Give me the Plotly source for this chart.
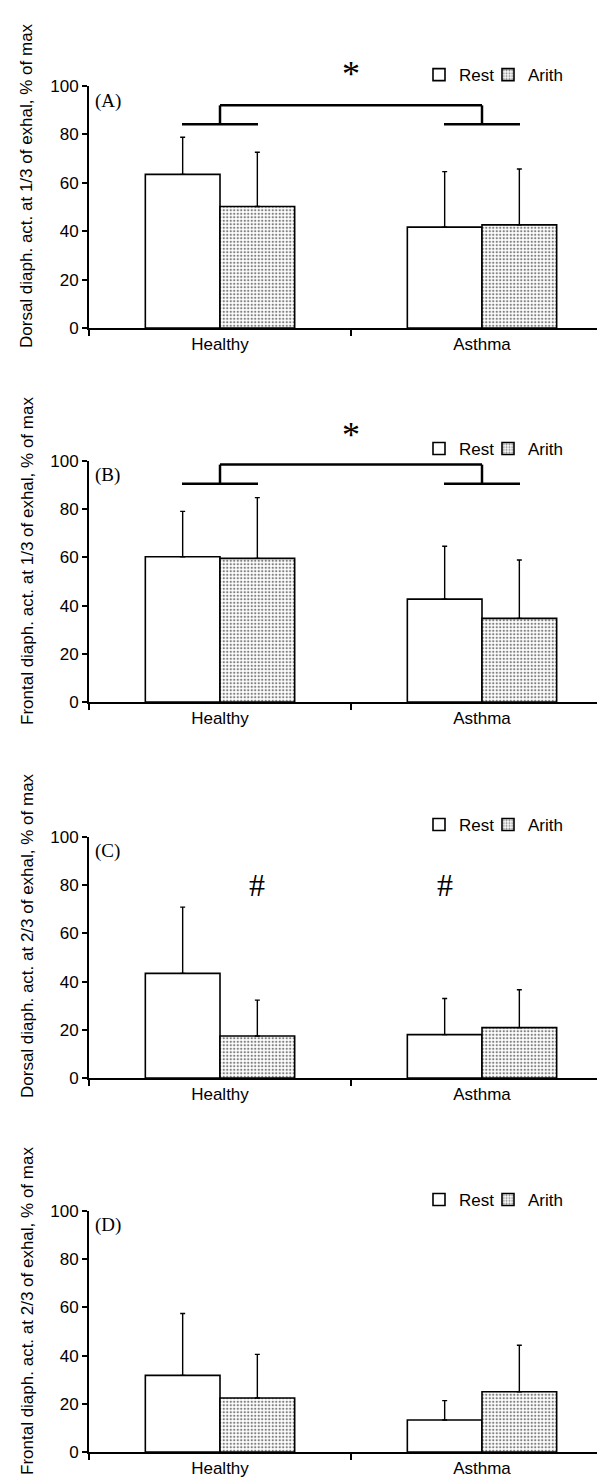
import plotly.graph_objects as go

groups = ["Healthy", "Asthma"]
series_names = ["Rest", "Arith"]

# mean values and (upper) SD for each panel
A_rest = [63.5, 41.7]
A_rest_sd = [15.3, 22.9]
A_arith = [50.2, 42.6]
A_arith_sd = [22.4, 23.1]

B_rest = [60.3, 42.7]
B_rest_sd = [18.8, 21.9]
B_arith = [59.6, 34.7]
B_arith_sd = [25.2, 24.2]

C_rest = [43.4, 18.0]
C_rest_sd = [27.5, 15.0]
C_arith = [17.4, 20.9]
C_arith_sd = [14.9, 15.7]

D_rest = [31.8, 13.3]
D_rest_sd = [25.7, 8.0]
D_arith = [22.4, 25.0]
D_arith_sd = [18.1, 19.3]

panel_letters = ["(A)", "(B)", "(C)", "(D)"]
y_titles = [
    "Dorsal diaph. act. at 1/3 of exhal, % of max",
    "Frontal diaph. act. at 1/3 of exhal, % of max",
    "Dorsal diaph. act. at 2/3 of exhal, % of max",
    "Frontal diaph. act. at 2/3 of exhal, % of max",
]
y_ticks = [0, 20, 40, 60, 80, 100]

panels = [
    (A_rest, A_rest_sd, A_arith, A_arith_sd),
    (B_rest, B_rest_sd, B_arith, B_arith_sd),
    (C_rest, C_rest_sd, C_arith, C_arith_sd),
    (D_rest, D_rest_sd, D_arith, D_arith_sd),
]

W, H = 605, 1478
# pixel positions (top of 100, bottom of 0) of each panel's y axis
panel_px = [(78, 320), (453, 694), (829, 1070), (1203, 1444)]
title_centers_px = [178, 553, 928, 1303]
legend_vals = [104.5, 105.0, 105.0, 104.6]
legend_x_px = [411, 480]

FONT = "Liberation Sans, Arial, sans-serif"
SERIF = "Liberation Serif, Times New Roman, serif"


def val_to_paper(i, v, dy_px=0.0):
    top, bot = panel_px[i]
    px = bot - v / 100.0 * (bot - top) + dy_px
    return 1 - px / H


fig = go.Figure()
layout = dict(
    width=W, height=H,
    margin=dict(l=0, r=0, t=0, b=0),
    paper_bgcolor="white", plot_bgcolor="white",
    barmode="group", bargap=0.43, bargroupgap=0,
    showlegend=True,
    font=dict(family=FONT, size=17, color="black"),
    annotations=[], shapes=[],
)

leg_count = 0
for i, (rest, rest_sd, arith, arith_sd) in enumerate(panels):
    n = "" if i == 0 else str(i + 1)
    xa, ya = "x" + n, "y" + n
    series = [(rest, rest_sd, None), (arith, arith_sd, ".")]
    for k, (vals, sds, pat) in enumerate(series):
        leg_count += 1
        leg = "legend" if leg_count == 1 else "legend" + str(leg_count)
        marker = dict(color="white", line=dict(color="black", width=1.6))
        if pat:
            marker["pattern"] = dict(shape=pat, size=3.5, solidity=0.35,
                                     fgcolor="black", bgcolor="white")
        fig.add_trace(go.Bar(
            x=groups, y=vals, name=series_names[k], xaxis=xa, yaxis=ya,
            offsetgroup=series_names[k], legend=leg, marker=marker,
            showlegend=True,
            error_y=dict(type="data", symmetric=False, array=sds,
                         arrayminus=[0] * len(sds), color="black",
                         thickness=1.4, width=2.5),
        ))
        layout[leg] = dict(
            orientation="h", x=legend_x_px[k] / W, xanchor="left",
            y=val_to_paper(i, legend_vals[i]), yanchor="middle",
            bgcolor="rgba(0,0,0,0)", font=dict(size=17, family=FONT),
            itemwidth=30,
        )
    top_px, bot_px = panel_px[i]
    dom = [1 - bot_px / H, 1 - top_px / H]
    layout["xaxis" + n] = dict(
        domain=[81 / W, 1], anchor=ya, type="category",
        categoryorder="array", categoryarray=groups,
        range=[-0.5, 1.5], showline=True, linecolor="black", linewidth=2,
        ticks="outside", tickson="boundaries", ticklen=6, tickwidth=1.5,
        tickcolor="black", showgrid=False, zeroline=False,
        tickfont=dict(size=17, family=FONT), automargin=False,
    )
    layout["yaxis" + n] = dict(
        domain=dom, anchor=xa, range=[0, 100], tickvals=y_ticks,
        showline=True, linecolor="black", linewidth=2,
        ticks="outside", ticklen=5, tickwidth=1.5, tickcolor="black",
        showgrid=False, zeroline=False, tickfont=dict(size=17, family=FONT),
        automargin=False,
    )
    # y-axis title
    layout["annotations"].append(dict(
        text=y_titles[i], textangle=-90, xref="paper", yref="paper",
        x=19 / W, y=1 - title_centers_px[i] / H, showarrow=False,
        font=dict(size=17, family=FONT), xanchor="center", yanchor="middle",
    ))
    # panel letter
    layout["annotations"].append(dict(
        text=panel_letters[i], xref=xa + " domain", yref=ya,
        x=0.008, y=94, xanchor="left", yanchor="middle", showarrow=False,
        font=dict(size=19, family=SERIF),
    ))

# significance brackets for panels A and B
bracket_levels = [(84.2, 92.0, 106.0), (90.6, 98.5, 112.0)]
for i, (low, high, star_v) in enumerate(bracket_levels):
    n = "" if i == 0 else str(i + 1)
    xa, ya = "x" + n, "y" + n
    line = dict(color="black", width=2.5)
    for c in (0, 1):
        layout["shapes"].append(dict(type="line", xref=xa, yref=ya,
                                     x0=c - 0.145, x1=c + 0.145, y0=low, y1=low, line=line))
        layout["shapes"].append(dict(type="line", xref=xa, yref=ya,
                                     x0=c, x1=c, y0=low, y1=high, line=line))
    layout["shapes"].append(dict(type="line", xref=xa, yref=ya,
                                 x0=0, x1=1, y0=high, y1=high, line=line))
    layout["annotations"].append(dict(
        text="*", xref=xa, yref="paper", x=0.5, y=val_to_paper(i, star_v, 3),
        showarrow=False, font=dict(size=36, family=SERIF),
        xanchor="center", yanchor="middle",
    ))

# '#' markers for panel C
for xv in (0.1425, 0.8575):
    layout["annotations"].append(dict(
        text="#", xref="x3", yref="y3", x=xv, y=80, showarrow=False,
        font=dict(size=32, family=SERIF), xanchor="center", yanchor="middle",
    ))

fig.update_layout(**layout)
fig.write_html("out.html")
